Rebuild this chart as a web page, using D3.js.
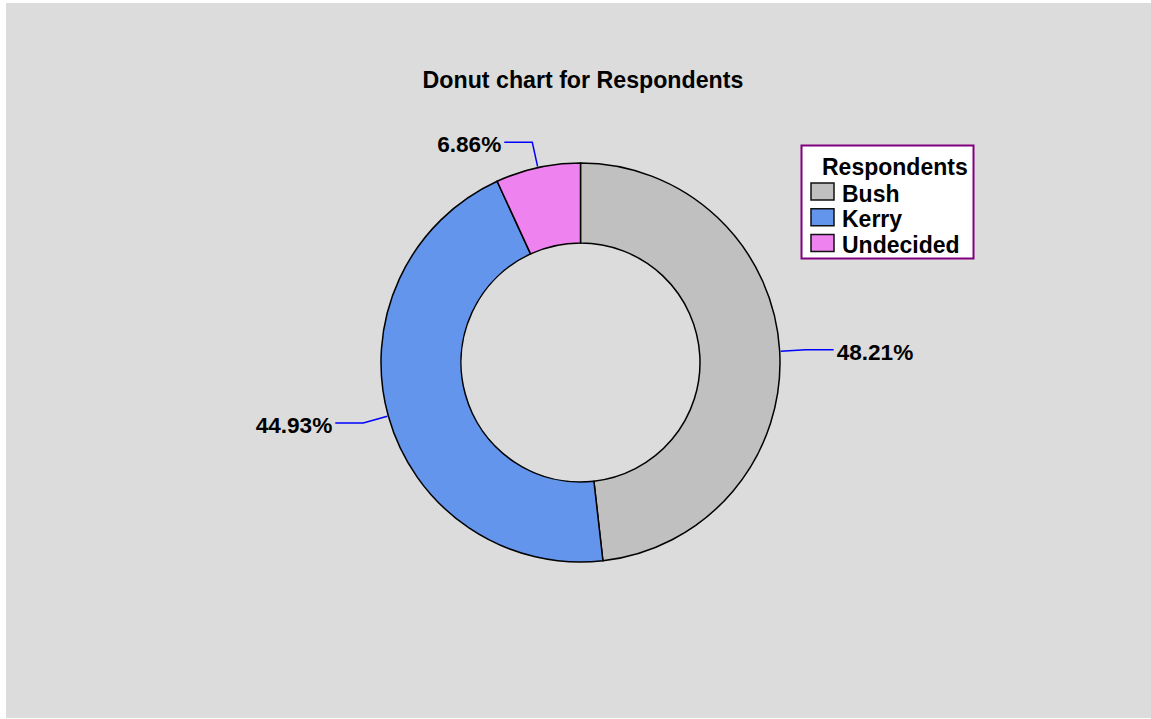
<!DOCTYPE html>
<html>
<head>
<meta charset="utf-8">
<script src="https://cdn.jsdelivr.net/npm/d3@7"></script>
<style>
  body { margin: 0; background: #fff; }
  text { font-family: "Liberation Sans", Arial, sans-serif; font-weight: bold; }
</style>
</head>
<body>
<script>
// data
const categories = ["Bush", "Kerry", "Undecided"]
const values = [48.21, 44.93, 6.86]
const colors = ["#c0c0c0", "#6495ed", "#ee82ee"]
const chartTitle = "Donut chart for Respondents"
const legendTitle = "Respondents"

const WIDTH = 1151
const HEIGHT = 719

const svg = d3.select("body").append("svg")
  .attr("width", WIDTH).attr("height", HEIGHT)

// gray panel
svg.append("rect")
  .attr("x", 6).attr("y", 3)
  .attr("width", WIDTH - 6).attr("height", HEIGHT - 4)
  .attr("fill", "#dcdcdc")

svg.append("text")
  .attr("x", 583).attr("y", 88)
  .attr("text-anchor", "middle")
  .attr("font-size", 23.2)
  .text(chartTitle)

const cx = 580.5, cy = 362.5
const outerR = 199.5, innerR = 119.5

const pie = d3.pie().sort(null).value(d => d.value)
const data = categories.map((c, i) => ({ name: c, value: values[i], color: colors[i] }))
const arcs = pie(data)

const arc = d3.arc().innerRadius(innerR).outerRadius(outerR)

const g = svg.append("g").attr("transform", `translate(${cx},${cy})`)

g.selectAll("path.slice")
  .data(arcs)
  .enter()
  .append("path")
  .attr("class", "slice")
  .attr("d", arc)
  .attr("fill", d => d.data.color)
  .attr("stroke", "black")
  .attr("stroke-width", 1.5)

// leader lines + labels
const radialLen = 26, horizLen = 28
arcs.forEach(d => {
  const a = (d.startAngle + d.endAngle) / 2
  const sx = Math.sin(a), sy = -Math.cos(a)
  const p0 = [sx * (outerR + 1), sy * (outerR + 1)]
  const p1 = [sx * (outerR + radialLen), sy * (outerR + radialLen)]
  const dir = sx >= 0 ? 1 : -1
  const p2 = [p1[0] + dir * horizLen, p1[1]]
  g.append("path")
    .attr("d", d3.line()([p0, p1, p2]))
    .attr("fill", "none")
    .attr("stroke", "#0000ff")
    .attr("stroke-width", 1.5)
  g.append("text")
    .attr("x", p2[0] + dir * 3)
    .attr("y", p2[1] + 10)
    .attr("text-anchor", dir > 0 ? "start" : "end")
    .attr("font-size", 22.6)
    .text(d.data.value.toFixed(2) + "%")
})

// legend
const legend = svg.append("g")
legend.append("rect")
  .attr("x", 801.5).attr("y", 145.5)
  .attr("width", 172).attr("height", 113)
  .attr("fill", "white")
  .attr("stroke", "#800080")
  .attr("stroke-width", 2)

legend.append("text")
  .attr("x", 822).attr("y", 175)
  .attr("font-size", 23)
  .text(legendTitle)

const rowY = d3.scalePoint().domain(categories).range([201.5, 253])

legend.selectAll("rect.sw")
  .data(data)
  .enter()
  .append("rect")
  .attr("class", "sw")
  .attr("x", 811).attr("y", d => rowY(d.name) - 18.5)
  .attr("width", 23).attr("height", 17)
  .attr("fill", d => d.color)
  .attr("stroke", "#111")
  .attr("stroke-width", 1.5)

legend.selectAll("text.lab")
  .data(data)
  .enter()
  .append("text")
  .attr("class", "lab")
  .attr("x", 842).attr("y", d => rowY(d.name))
  .attr("font-size", 23)
  .text(d => d.name)
</script>
</body>
</html>
